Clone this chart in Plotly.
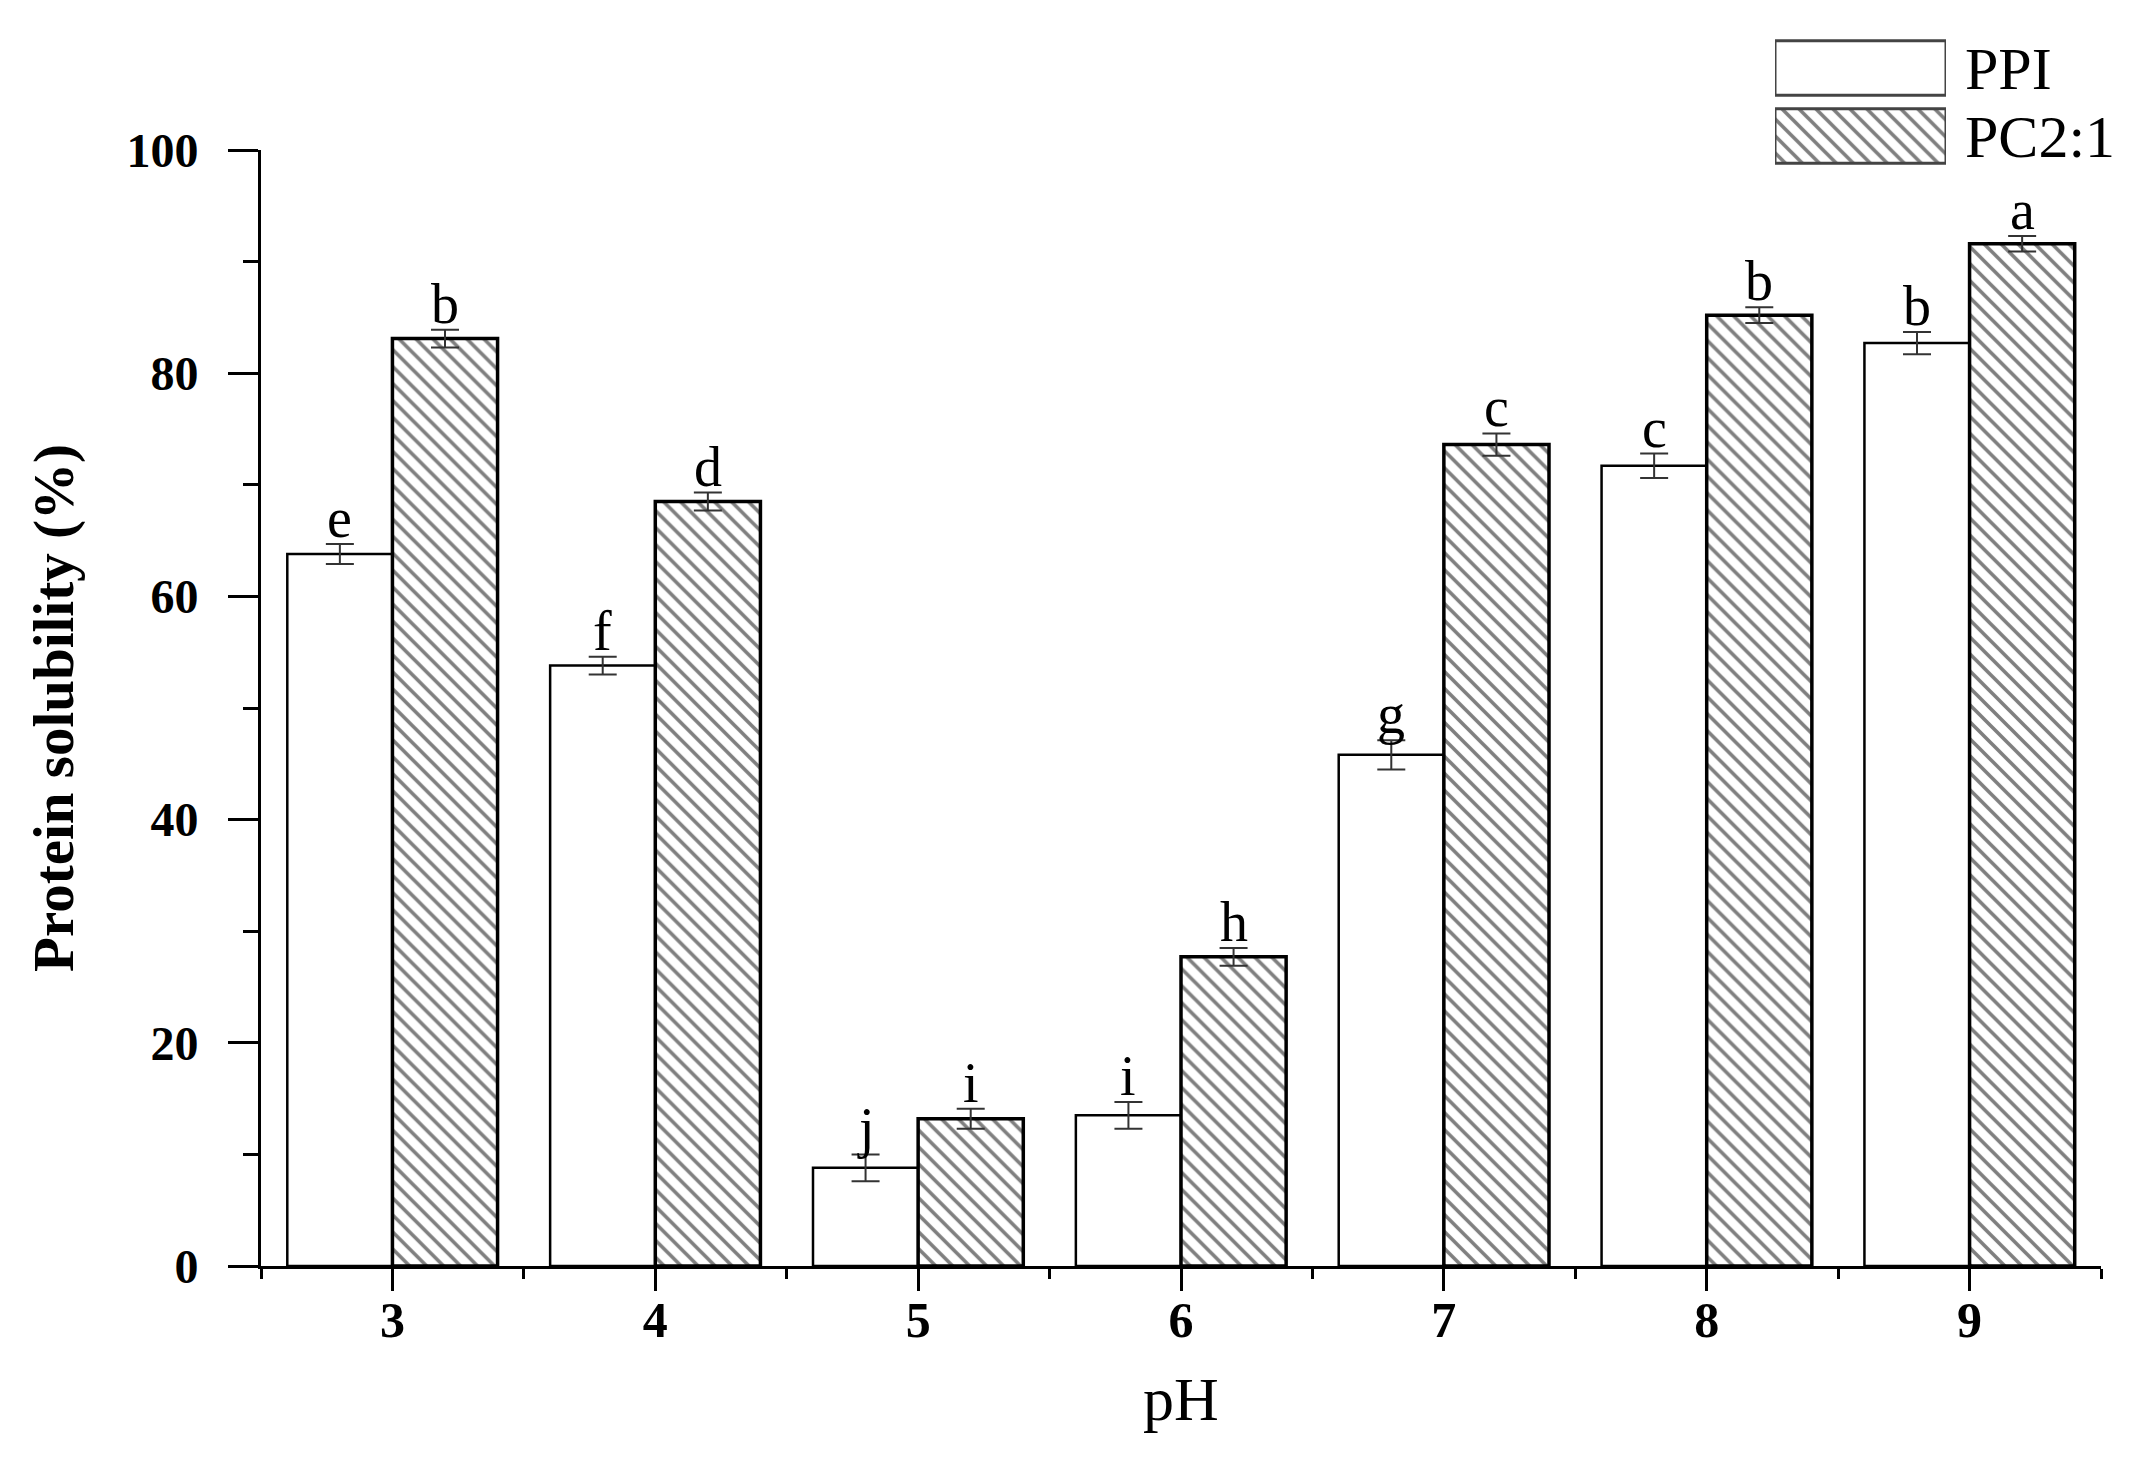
import plotly.graph_objects as go

# pH groups
ph = [3, 4, 5, 6, 7, 8, 9]

# protein solubility (%)
ppi = [63.8, 53.8, 8.8, 13.5, 45.8, 71.7, 82.7]
ppi_err = [0.9, 0.8, 1.2, 1.2, 1.3, 1.1, 1.0]
ppi_letters = ["e", "f", "j", "i", "g", "c", "b"]

pc = [83.1, 68.5, 13.2, 27.7, 73.6, 85.2, 91.6]
pc_err = [0.8, 0.8, 0.9, 0.8, 1.0, 0.7, 0.7]
pc_letters = ["b", "d", "i", "h", "c", "b", "a"]

legend_names = ["PPI", "PC2:1"]

FONT = "Liberation Serif"
BAR_W = 0.4  # each bar, in category units (bargap 0.2, two bars)
HATCH = dict(shape="\\", size=12, solidity=0.3, fgcolor="black", bgcolor="white")

fig = go.Figure()

fig.add_trace(go.Bar(
    x=ph, y=ppi, name="PPI",
    marker=dict(color="white", line=dict(color="black", width=2.5)),
    error_y=dict(type="data", array=ppi_err, visible=True,
                 color="#333333", thickness=2, width=14),
    showlegend=False,
))
fig.add_trace(go.Bar(
    x=ph, y=pc, name="PC2:1",
    marker=dict(color="white", line=dict(color="black", width=3.5),
                pattern=HATCH),
    error_y=dict(type="data", array=pc_err, visible=True,
                 color="#333333", thickness=2, width=14),
    showlegend=False,
))

# significance letters above error bars
for series, errs, letters, off in [(ppi, ppi_err, ppi_letters, -BAR_W / 2),
                                   (pc, pc_err, pc_letters, BAR_W / 2)]:
    for p, v, e, t in zip(ph, series, errs, letters):
        fig.add_annotation(x=p + off, y=v + e, text=t, showarrow=False,
                           xref="x", yref="y", yanchor="bottom", yshift=-7,
                           font=dict(family=FONT, size=56, color="black"))

# legend drawn as a small bar panel (big swatches like the original)
fig.add_trace(go.Bar(
    x=[1, 1], y=legend_names, orientation="h",
    xaxis="x2", yaxis="y2", showlegend=False, hoverinfo="skip",
    marker=dict(color="white", line=dict(color="#444444", width=3),
                pattern=dict(HATCH, shape=["", "\\"])),
    offsetgroup="leg",
))

H_TOT = 1460
T, B = 20, 202
ph_h = H_TOT - T - B
y_top = (1258 - 142) / ph_h

fig.update_layout(
    width=2155, height=1460,
    margin=dict(l=253, r=62, t=T, b=B, autoexpand=False),
    plot_bgcolor="white", paper_bgcolor="white",
    barmode="group", bargap=0.2, bargroupgap=0,
    font=dict(family=FONT, color="black"),
    xaxis=dict(
        range=[2.5, 9.5], domain=[0, 1], automargin=False,
        tickvals=ph, ticktext=[str(p) for p in ph],
        ticks="outside", ticklen=22, tickwidth=3, tickcolor="black",
        minor=dict(tick0=2.5, dtick=1, ticks="outside", ticklen=10,
                   tickwidth=3, tickcolor="black"),
        showline=True, linecolor="black", linewidth=3,
        showgrid=False, zeroline=False,
        tickfont=dict(family=FONT, size=50, color="black", weight="bold"),
        ticklabelstandoff=-14,
        title=dict(text="pH", standoff=30,
                   font=dict(family=FONT, size=62, color="black")),
    ),
    yaxis=dict(
        range=[0, 100], domain=[0, y_top], automargin=False,
        tickvals=[0, 20, 40, 60, 80, 100],
        ticks="outside", ticklen=30, tickwidth=3, tickcolor="black",
        minor=dict(dtick=10, ticks="outside", ticklen=15,
                   tickwidth=3, tickcolor="black"),
        showline=True, linecolor="black", linewidth=3,
        showgrid=False, zeroline=False,
        tickfont=dict(family=FONT, size=48, color="black", weight="bold"),
        ticklabelstandoff=20,
        title=dict(text="Protein solubility (%)", standoff=35,
                   font=dict(family=FONT, size=57, color="black",
                             weight="bold")),
    ),
    xaxis2=dict(
        domain=[(1767 - 253) / 1840, (1938 - 253) / 1840], anchor="y2",
        range=[0, 1], visible=False, fixedrange=True, automargin=False,
    ),
    yaxis2=dict(
        domain=[(1258 - 162) / ph_h, (1258 - 26) / ph_h], anchor="x2",
        type="category", categoryorder="array",
        categoryarray=legend_names[::-1], automargin=False,
        tickmode="array", tickvals=legend_names, ticktext=legend_names,
        side="right", showline=False, showgrid=False, zeroline=False,
        ticks="", ticklabelstandoff=18,
        tickfont=dict(family=FONT, size=60, color="black"),
        fixedrange=True,
    ),
)

fig.write_html("out.html")
